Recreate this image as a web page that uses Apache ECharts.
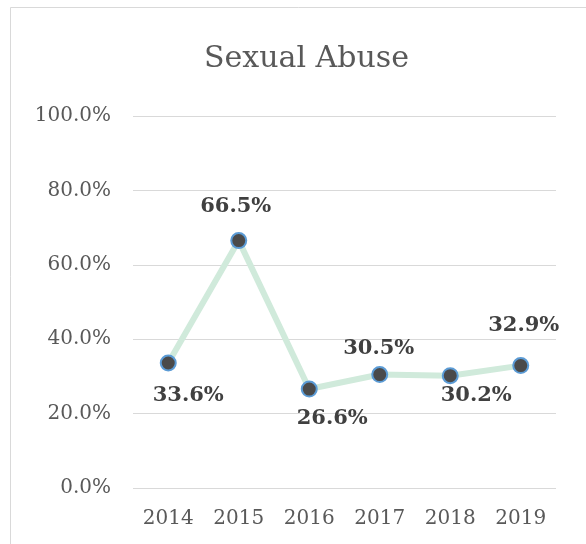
<!DOCTYPE html>
<html>
<head>
<meta charset="utf-8">
<script src="https://cdn.jsdelivr.net/npm/echarts@6/dist/echarts.min.js"></script>
<style>
  html, body { margin: 0; padding: 0; background: #ffffff; }
  #chart { width: 586px; height: 544px; }
</style>
</head>
<body>
<div id="chart"></div>
<script>
// Share of cases per year
const years = ['2014', '2015', '2016', '2017', '2018', '2019'];
const rates = [33.6, 66.5, 26.6, 30.5, 30.2, 32.9];
// Where each value label sits relative to its point: [dx, dy]
const labelOffsets = [[20, 33], [-3, -34], [23, 29], [-1, -26], [26, 20], [3, -40]];
const yTicks = [0, 20, 40, 60, 80, 100];

const serif = '"DejaVu Serif", serif';
const chart = echarts.init(document.getElementById('chart'), null, { renderer: 'canvas' });

const points = rates.map((v, i) => ({
  value: v,
  label: { offset: labelOffsets[i] }
}));

chart.setOption({
  backgroundColor: '#ffffff',
  animation: false,
  graphic: [{
    type: 'rect',
    shape: { x: 10.5, y: 7.5, width: 700, height: 700 },
    style: { fill: 'none', stroke: '#d9d9d9', lineWidth: 1 },
    silent: true
  }],
  title: {
    text: 'Sexual Abuse',
    left: 199,
    top: 39,
    textStyle: { fontFamily: serif, fontSize: 30, fontWeight: 'normal', color: '#595959' }
  },
  grid: { left: 133, right: 30, top: 116, bottom: 56 },
  xAxis: {
    type: 'category',
    data: years,
    boundaryGap: true,
    axisLine: { show: false },
    axisTick: { show: false },
    axisLabel: { fontFamily: serif, fontSize: 20, color: '#595959', margin: 21 }
  },
  yAxis: {
    type: 'value',
    min: yTicks[0],
    max: yTicks[yTicks.length - 1],
    interval: 20,
    axisLine: { show: false },
    axisTick: { show: false },
    splitLine: { lineStyle: { color: '#d9d9d9', width: 1 } },
    axisLabel: {
      fontFamily: serif, fontSize: 20, color: '#595959', margin: 22,
      formatter: v => v.toFixed(1) + '%'
    }
  },
  series: [{
    type: 'line',
    data: points,
    symbol: 'circle',
    symbolSize: 15,
    lineStyle: { color: '#d0eadb', width: 6 },
    itemStyle: { color: '#4a4a4a', borderColor: '#5b9bd5', borderWidth: 2 },
    label: {
      show: true,
      position: 'inside',
      fontFamily: serif,
      fontSize: 21,
      fontWeight: 'bold',
      color: '#404040',
      formatter: p => p.value.toFixed(1) + '%'
    }
  }]
});
</script>
</body>
</html>
